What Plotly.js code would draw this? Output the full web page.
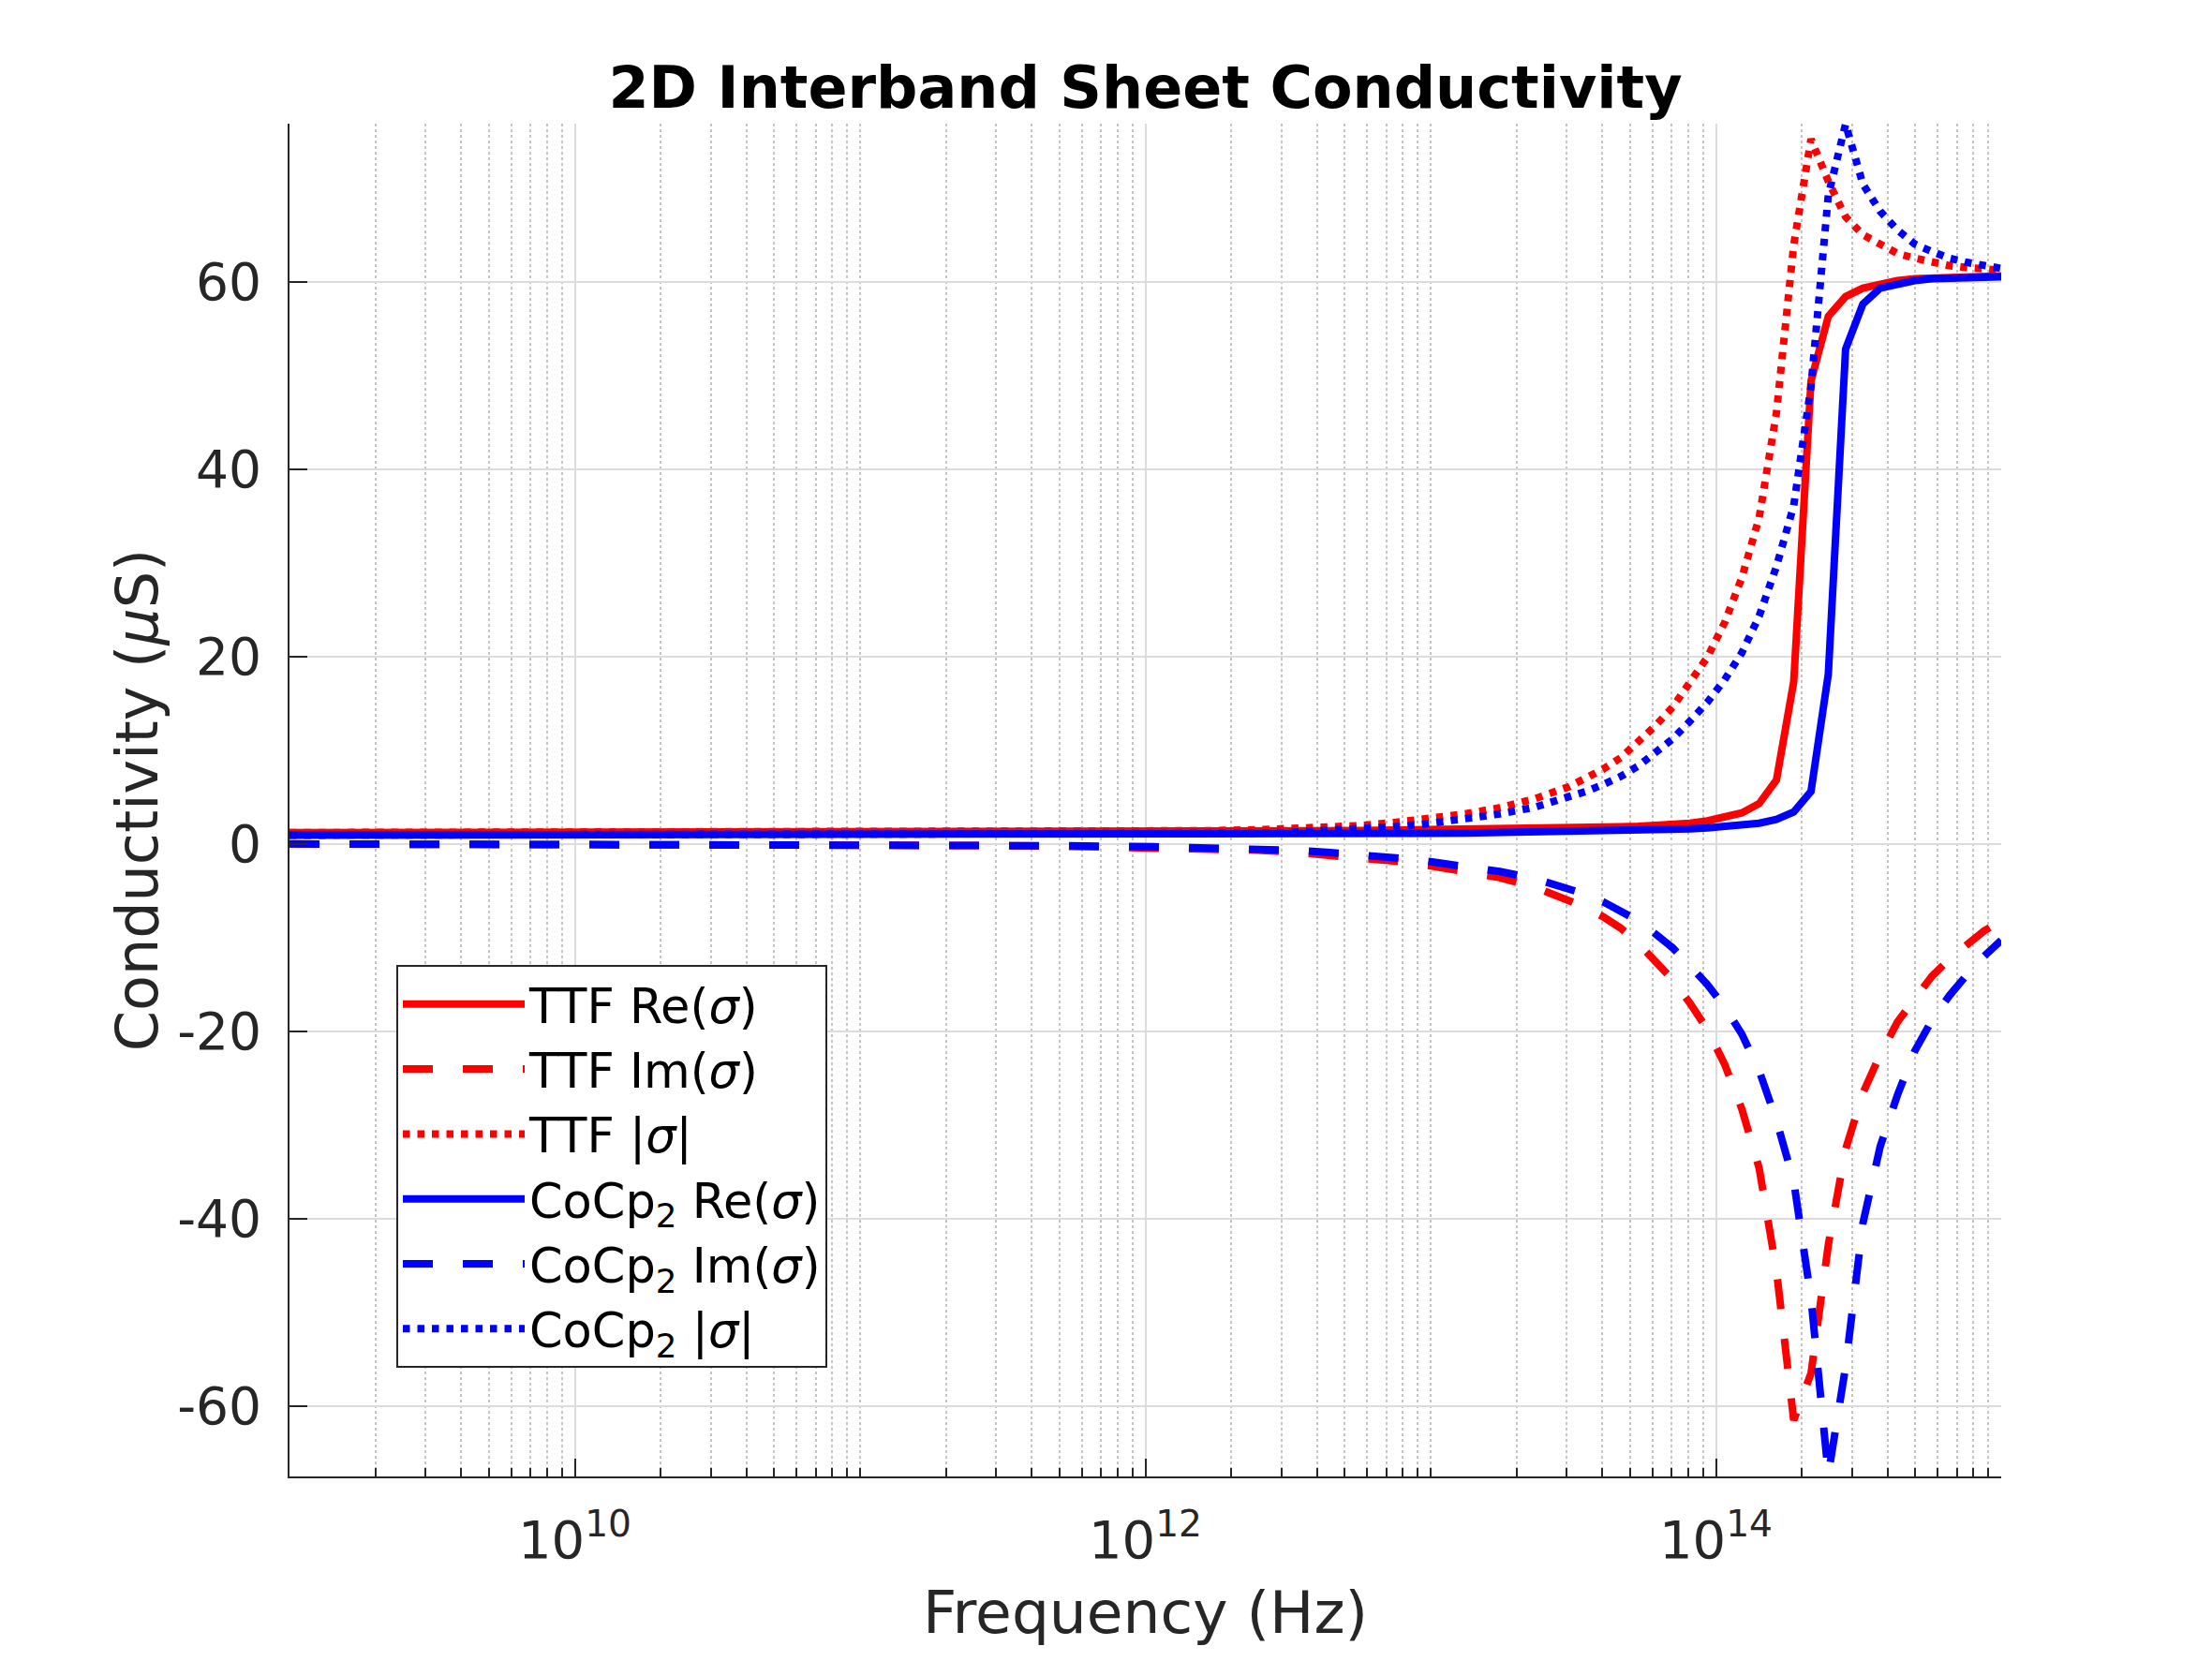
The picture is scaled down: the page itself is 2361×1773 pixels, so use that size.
<!DOCTYPE html>
<html><head><meta charset="utf-8">
<script src="https://cdn.plot.ly/plotly-3.0.1.min.js"></script>
<style>html,body{margin:0;padding:0;background:#fff}</style>
</head><body>
<div id="chart" style="width:2361px;height:1773px"></div>
<script>
// Frequency samples (Hz)
const freqHz = [1e9, 4.04e9, 1.63e10, 6.58e10, 2.656e11, 5.337e11, 1.072e12, 1.630e12, 2.477e12, 3.275e12,
  4.329e12, 5.722e12, 7.565e12, 1.0e13, 1.322e13, 1.748e13, 2.310e13, 3.054e13, 3.511e13, 4.037e13,
  4.642e13, 5.337e13, 6.136e13, 7.055e13, 8.111e13, 9.326e13, 1.0723e14, 1.2328e14, 1.4175e14, 1.6298e14,
  1.8738e14, 2.1544e14, 2.4771e14, 2.8480e14, 3.2745e14, 3.7649e14, 4.3288e14, 4.9770e14, 5.7224e14, 6.5793e14,
  7.5646e14, 8.6975e14, 1e15];

// Conductivity (uS)
const ttfRe = [1.2,1.2,1.2,1.2,1.22,1.24,1.27,1.3,1.35,1.38,1.4,1.43,1.46,1.5,1.54,1.6,1.65,1.71,
  1.74,1.78,1.82,1.87,1.95,2.05,2.2,2.45,2.8,3.3,4.3,6.8,17.3,49.4,56.3,58.4,59.3,59.8,60.1,60.3,60.4,60.5,60.55,60.6,60.6];
const ttfIm = [-0.01,-0.02,-0.04,-0.08,-0.17,-0.26,-0.4,-0.52,-0.68,-0.88,-1.15,-1.45,-1.85,-2.35,-2.9,-3.6,-4.6,-6.0,
  -6.8,-7.8,-9.0,-10.6,-12.5,-14.5,-17.0,-19.8,-23.5,-28.3,-34.6,-45.5,-61.5,-56.5,-42.8,-32.6,-26.6,-22.5,-19.0,-16.4,-14.1,-12.3,-10.7,-9.3,-8.2];
const ttfAbs = [1.2,1.2,1.2,1.2,1.23,1.27,1.33,1.4,1.5,1.63,1.75,1.95,2.3,2.7,3.2,3.85,4.8,6.1,
  7.0,8.0,9.2,10.8,12.6,14.6,17.1,19.9,23.6,28.4,34.8,46.0,63.9,75.2,70.7,66.9,65.0,63.9,63.0,62.5,62.0,61.7,61.5,61.3,61.2];
const coRe = [0.93,0.93,0.93,0.93,0.95,0.96,0.98,1.0,1.02,1.04,1.06,1.08,1.1,1.13,1.16,1.2,1.24,1.29,
  1.32,1.35,1.38,1.42,1.47,1.53,1.6,1.7,1.82,1.98,2.2,2.6,3.4,5.6,18.1,52.8,57.6,59.3,59.8,60.1,60.3,60.4,60.45,60.5,60.5];
const coIm = [-0.01,-0.02,-0.03,-0.06,-0.13,-0.2,-0.3,-0.38,-0.5,-0.68,-0.9,-1.15,-1.5,-1.9,-2.35,-2.95,-3.7,-4.7,
  -5.4,-6.2,-7.1,-8.2,-9.6,-11.1,-13.0,-15.0,-17.4,-20.3,-24.2,-29.5,-36.0,-48.5,-67.3,-55.8,-40.5,-32.3,-26.8,-22.1,-18.8,-16.2,-14.0,-12.0,-10.3];
const coAbs = [0.93,0.93,0.93,0.93,0.96,0.98,1.02,1.07,1.13,1.24,1.4,1.6,1.85,2.2,2.6,3.2,3.9,4.9,
  5.6,6.35,7.2,8.3,9.7,11.2,13.1,15.1,17.5,20.4,24.3,29.6,36.1,48.8,69.2,76.8,70.4,67.5,65.5,64.0,63.2,62.5,62.05,61.7,61.4];

const seriesNames = ['TTF Re(<i>σ</i>)', 'TTF Im(<i>σ</i>)', 'TTF |<i>σ</i>|',
  'CoCp<sub>2</sub> Re(<i>σ</i>)', 'CoCp<sub>2</sub> Im(<i>σ</i>)', 'CoCp<sub>2</sub> |<i>σ</i>|'];
const xTickVals = [1e10, 1e12, 1e14];
const xTickText = ['10<sup>10</sup>', '10<sup>12</sup>', '10<sup>14</sup>'];
const yTickVals = [-60, -40, -20, 0, 20, 40, 60];
const yTickText = ['-60', '-40', '-20', '0', '20', '40', '60'];

// minor tick positions for the log axis
const minorVals = [];
for (let e = 9; e <= 14; e++) {
  if (e % 2 === 1) minorVals.push(Math.pow(10, e));
  for (let m = 2; m <= 9; m++) minorVals.push(m * Math.pow(10, e));
}
minorVals.push(1e15);

const RED = '#ff0000', BLUE = '#0000ff';
const LW = 8;
const DASH = '32px,32px';
const DOT = '7.5px,8px';

function tr(y, name, color, dash) {
  return { x: freqHz, y: y, name: name, type: 'scatter', mode: 'lines',
    line: { color: color, width: LW, dash: dash } };
}

const data = [
  tr(ttfRe, seriesNames[0], RED, 'solid'),
  tr(ttfIm, seriesNames[1], RED, DASH),
  tr(ttfAbs, seriesNames[2], RED, DOT),
  tr(coRe, seriesNames[3], BLUE, 'solid'),
  tr(coIm, seriesNames[4], BLUE, DASH),
  tr(coAbs, seriesNames[5], BLUE, DOT)
];

const FONT = 'DejaVu Sans, sans-serif';
const AX = '#262626';

const layout = {
  width: 2361, height: 1773,
  paper_bgcolor: '#ffffff', plot_bgcolor: '#ffffff',
  margin: { l: 309, r: 225, t: 132, b: 197, pad: 0 },
  font: { family: FONT, color: AX, size: 55 },
  title: { text: '<b>2D Interband Sheet Conductivity</b>', font: { family: FONT, size: 62, color: '#000000' },
    x: 0.5, xanchor: 'center', xref: 'paper', y: 0.935, yref: 'container', yanchor: 'bottom' },
  showlegend: true,
  legend: {
    x: 0.0624, y: 0.378, xanchor: 'left', yanchor: 'top',
    bgcolor: '#ffffff', bordercolor: AX, borderwidth: 2,
    font: { family: FONT, size: 51, color: '#000000' },
    itemwidth: 130, tracegroupgap: 0
  },
  xaxis: {
    type: 'log', range: [9, 15], autorange: false,
    tickmode: 'array', tickvals: xTickVals, ticktext: xTickText,
    ticks: 'inside', ticklen: 19, tickwidth: 2, tickcolor: AX,
    showline: true, linecolor: AX, linewidth: 2, mirror: false,
    showgrid: true, gridcolor: '#dcdcdc', gridwidth: 2,
    zeroline: false, automargin: false,
    tickfont: { family: FONT, size: 56, color: AX },
    ticklabelstandoff: 18,
    minor: { tickmode: 'array', tickvals: minorVals, ticks: 'inside', ticklen: 9, tickwidth: 2, tickcolor: AX,
      showgrid: true, gridcolor: '#c4c4c4', griddash: 'dot', gridwidth: 2 },
    title: { text: 'Frequency (Hz)', font: { family: FONT, size: 63, color: AX }, standoff: 24 }
  },
  yaxis: {
    range: [-67.5, 76.85], autorange: false,
    tickmode: 'array', tickvals: yTickVals, ticktext: yTickText,
    ticks: 'inside', ticklen: 19, tickwidth: 2, tickcolor: AX,
    showline: true, linecolor: AX, linewidth: 2, mirror: false,
    showgrid: true, gridcolor: '#dcdcdc', gridwidth: 2,
    zeroline: false, automargin: false,
    tickfont: { family: FONT, size: 55, color: AX },
    ticklabelstandoff: 17,
    title: { text: 'Conductivity (<i>μ</i>S)', font: { family: FONT, size: 62, color: AX }, standoff: 0 }
  }
};

Plotly.newPlot('chart', data, layout, { staticPlot: true, displayModeBar: false });
</script>
</body></html>
